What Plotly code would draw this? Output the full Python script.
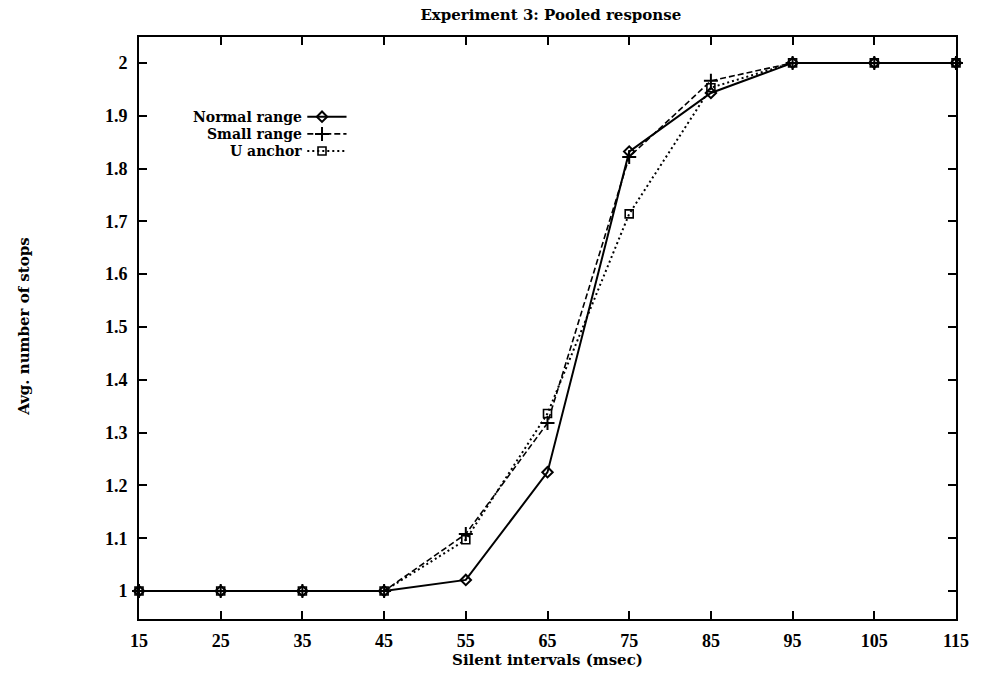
import plotly.graph_objects as go

# Silent interval durations (msec)
intervals = [15, 25, 35, 45, 55, 65, 75, 85, 95, 105, 115]

# Average number of stops reported per condition
normal_range = [1.0, 1.0, 1.0, 1.0, 1.021, 1.225, 1.832, 1.943, 2.0, 2.0, 2.0]
small_range = [1.0, 1.0, 1.0, 1.0, 1.108, 1.318, 1.822, 1.966, 2.0, 2.0, 2.0]
u_anchor = [1.0, 1.0, 1.0, 1.0, 1.097, 1.336, 1.714, 1.953, 2.0, 2.0, 2.0]

x_ticks = [15, 25, 35, 45, 55, 65, 75, 85, 95, 105, 115]
y_ticks = [1.0, 1.1, 1.2, 1.3, 1.4, 1.5, 1.6, 1.7, 1.8, 1.9, 2.0]
y_tick_labels = ["1", "1.1", "1.2", "1.3", "1.4", "1.5", "1.6", "1.7", "1.8", "1.9", "2"]

TEXT_FONT = "DejaVu Serif"
TICK_FONT = "Liberation Serif"

series = [
    ("Normal range", normal_range, dict(dash="solid", width=2),
     dict(symbol="diamond-open", size=8, line=dict(width=2, color="black"))),
    ("Small range", small_range, dict(dash="6px,3px", width=1.6),
     dict(symbol="cross-thin-open", size=10, line=dict(width=2, color="black"))),
    ("U anchor", u_anchor, dict(dash="2px,3px", width=2),
     dict(symbol="square-open", size=8, line=dict(width=1.6, color="black"))),
]

fig = go.Figure()
for name, ys, line, marker in series:
    fig.add_trace(go.Scatter(
        x=intervals, y=ys, name=name, mode="lines+markers",
        line=dict(color="black", **line), marker=dict(color="black", **marker),
        showlegend=False, cliponaxis=False,
    ))

# gnuplot-style key: label on the left, line sample with a centred marker on the right
key_top = 0.863
key_step = 0.0295
for i, (name, ys, line, marker) in enumerate(series):
    ky = key_top - i * key_step
    fig.add_annotation(
        xref="paper", yref="paper", x=0.202, y=ky, xanchor="right", yanchor="middle",
        text=name, showarrow=False,
        font=dict(family=TEXT_FONT, size=14, color="black", weight="bold"),
    )
    fig.add_trace(go.Scatter(
        x=[0.206, 0.254], y=[ky, ky], xaxis="x2", yaxis="y2",
        mode="lines", line=dict(color="black", **line),
        showlegend=False, hoverinfo="skip",
    ))
    fig.add_trace(go.Scatter(
        x=[0.224], y=[ky], xaxis="x2", yaxis="y2",
        mode="markers", marker=dict(color="black", **marker),
        showlegend=False, hoverinfo="skip",
    ))

tick_font = dict(family=TICK_FONT, size=18, color="black", weight="bold")
label_font = dict(family=TEXT_FONT, size=15, color="black", weight="bold")

fig.update_layout(
    width=981, height=673,
    margin=dict(l=139, r=20, t=37, b=53),
    paper_bgcolor="white", plot_bgcolor="white",
    font=dict(family=TEXT_FONT, color="black"),
    title=dict(
        text="Experiment 3: Pooled response", x=0.5615, xanchor="center",
        y=0.978, yanchor="middle",
        font=dict(family=TEXT_FONT, size=15, color="black", weight="bold"),
    ),
    xaxis=dict(
        range=[15, 115], tickvals=x_ticks, ticktext=[str(v) for v in x_ticks],
        ticks="inside", ticklen=8, tickwidth=2, tickcolor="black",
        showline=True, linewidth=2, linecolor="black", mirror="ticks",
        showgrid=False, zeroline=False, tickfont=tick_font, ticklabelstandoff=4,
        title=dict(text="Silent intervals (msec)", font=label_font, standoff=0),
    ),
    yaxis=dict(
        range=[0.947, 2.049], tickvals=y_ticks, ticktext=y_tick_labels,
        ticks="inside", ticklen=8, tickwidth=2, tickcolor="black",
        showline=True, linewidth=2, linecolor="black", mirror="ticks",
        showgrid=False, zeroline=False, tickfont=tick_font, ticklabelstandoff=6,
    ),
    xaxis2=dict(range=[0, 1], domain=[0, 1], overlaying="x", visible=False, anchor="y2"),
    yaxis2=dict(range=[0, 1], domain=[0, 1], overlaying="y", visible=False, anchor="x2"),
)

fig.add_annotation(
    xref="paper", yref="paper", x=-0.14, y=0.503, xanchor="center", yanchor="middle",
    text="Avg. number of stops", textangle=-90, showarrow=False, font=label_font,
)

fig.write_html("out.html")
